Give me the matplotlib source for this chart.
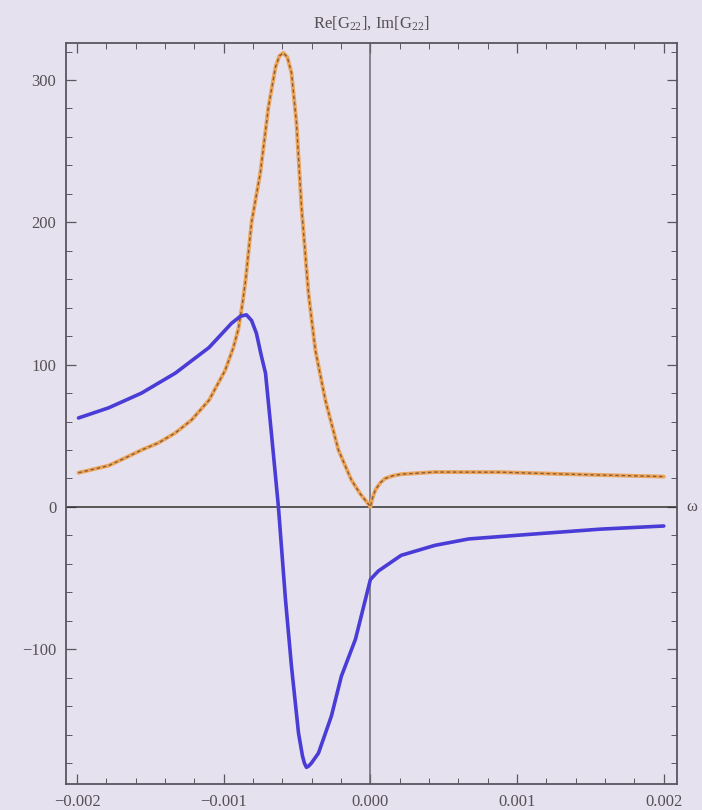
import matplotlib
matplotlib.use("Agg")
import matplotlib.pyplot as plt
from matplotlib.ticker import MultipleLocator, FixedLocator

# ---- data ----
re_omega = [-0.00199, -0.001785, -0.00167, -0.00156, -0.001445, -0.00133, -0.00122,
            -0.0011, -0.00099, -0.000934, -0.0009, -0.000872, -0.00085, -0.00081,
            -0.00075, -0.000695, -0.000647, -0.00062, -0.000593, -0.000566,
            -0.000538, -0.000504, -0.00047, -0.000422,
            -0.000375, -0.000307, -0.000218, -0.00013, -0.000068, -0.0000136, 0.0,
            0.0000136, 0.000034, 0.000068, 0.0001, 0.000157, 0.00021, 0.00044,
            0.00089, 0.00135, 0.002]
re_vals = [24, 29, 34.5, 40, 45, 52, 61,
           75, 96, 112, 125, 143, 160, 200,
           235, 281, 309, 317, 319, 316,
           305, 270, 211, 150,
           110, 75, 40, 19, 9, 2, 0,
           6, 12, 17, 20, 22, 23, 24.5,
           24.4, 23, 21.3]

im_omega = [-0.00199, -0.001785, -0.00156, -0.00133, -0.0011, -0.000947, -0.000886,
            -0.000845, -0.00081, -0.000777, -0.000743, -0.000715, -0.000675,
            -0.000627, -0.000579, -0.000538, -0.00049, -0.000463, -0.00045, -0.000436,
            -0.00042, -0.000402, -0.000354, -0.000266, -0.000198, -0.000102, 0.0,
            0.0000545, 0.00021, 0.00044, 0.00067, 0.00112, 0.00157, 0.002]
im_vals = [62.5, 69.6, 80, 94, 112, 129, 134,
           135, 131, 122, 106, 94, 52,
           0, -65, -112, -159, -175, -180, -183,
           -182, -180, -173, -147, -119, -93, -51,
           -45, -34, -27, -22.5, -19, -15.6, -13.4]

x_ticks = [-0.002, -0.001, 0.0, 0.001, 0.002]
x_labels = ["\u22120.002", "\u22120.001", "0.000", "0.001", "0.002"]
y_ticks = [-100, 0, 100, 200, 300]
y_labels = ["\u2212100", "0", "100", "200", "300"]
title = "Re[G$_{22}$], Im[G$_{22}$]"

# ---- styling ----
bg = "#e6e1ee"
frame_col = "#5a5660"
orange = "#eda55a"
dash_col = "#6b4a35"
blue = "#4a3cd6"

plt.rcParams["font.family"] = ["Liberation Serif", "DejaVu Serif"]
plt.rcParams["mathtext.fontset"] = "custom"
plt.rcParams["mathtext.rm"] = "Liberation Serif"
plt.rcParams["mathtext.it"] = "Liberation Serif"

fig = plt.figure(figsize=(7.02, 8.10), dpi=100, facecolor=bg)
ax = fig.add_axes([66 / 702, 1 - 784 / 810, 611 / 702, 741 / 810])
ax.set_facecolor(bg)

ax.set_xlim(-0.002075, 0.00209)
ax.set_ylim(-194.7, 326)

# axes through origin
ax.axhline(0, color="#303030", lw=1.1, zorder=2)
ax.axvline(0, color="#6a6a70", lw=1.1, zorder=2)

ax.plot(re_omega, re_vals, color=orange, lw=2.8, solid_capstyle="round",
        solid_joinstyle="round", zorder=3)
ax.plot(re_omega, re_vals, color=dash_col, lw=1.0, dashes=(2.5, 2.0), alpha=0.8, zorder=4)
ax.plot(im_omega, im_vals, color=blue, lw=2.6, solid_capstyle="round",
        solid_joinstyle="round", zorder=3)

ax.xaxis.set_major_locator(FixedLocator(x_ticks))
ax.set_xticklabels(x_labels)
ax.xaxis.set_minor_locator(MultipleLocator(0.0002))
ax.yaxis.set_major_locator(FixedLocator(y_ticks))
ax.set_yticklabels(y_labels)
ax.yaxis.set_minor_locator(MultipleLocator(20))

ax.tick_params(which="both", direction="in", top=True, right=True,
               color=frame_col, labelcolor="#555055", labelsize=12)
ax.tick_params(which="major", length=7, width=0.9, pad=7)
ax.tick_params(which="minor", length=4, width=0.7)
for s in ax.spines.values():
    s.set_color(frame_col)
    s.set_linewidth(1.3)

ax.set_title(title, fontsize=12, color="#555055", pad=11)
fig.text(686 / 702, 1 - 507 / 810, "\u03c9", fontsize=12, color="#555055",
         ha="left", va="center")

fig.savefig("out.png", dpi=100, facecolor=bg)
